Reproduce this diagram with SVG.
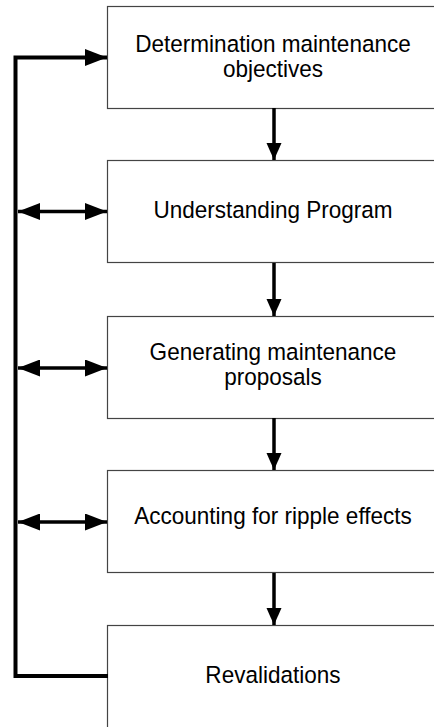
<svg xmlns="http://www.w3.org/2000/svg" width="434" height="727" viewBox="0 0 434 727">
<defs>
<style>
.box{fill:#fff;stroke:#444;stroke-width:1.2}
.lbl{font-family:"Liberation Sans",Arial,sans-serif;font-size:24.5px;fill:#000;text-anchor:middle}
.ln{fill:none;stroke:#000;stroke-width:4}
.sh{fill:none;stroke:#000;stroke-width:3.5}
</style>
<marker id="ah" viewBox="0 0 22 17" refX="22" refY="8.5" markerWidth="22" markerHeight="17" markerUnits="userSpaceOnUse" orient="auto-start-reverse">
<path d="M0,0 L22,8.5 L0,17 Z" fill="#000"/>
</marker>
<marker id="ad" viewBox="0 0 15 17" refX="17" refY="7.5" markerWidth="15" markerHeight="17" markerUnits="userSpaceOnUse" orient="auto">
<path d="M0,0 L17,7.5 L0,15 Z" fill="#000"/>
</marker>
</defs>
<rect width="434" height="727" fill="#fff"/>
<g id="n1"><rect class="box" x="107.5" y="6.5" width="340" height="102"/>
<text class="lbl" transform="translate(273 52) scale(0.92 1)">Determination maintenance</text>
<text class="lbl" transform="translate(273 77) scale(0.92 1)">objectives</text></g>
<g id="n2"><rect class="box" x="107.5" y="160.5" width="340" height="102"/>
<text class="lbl" transform="translate(273 218) scale(0.92 1)">Understanding Program</text></g>
<g id="n3"><rect class="box" x="107.5" y="316.5" width="340" height="102"/>
<text class="lbl" transform="translate(273 360) scale(0.92 1)">Generating maintenance</text>
<text class="lbl" transform="translate(273 385) scale(0.92 1)">proposals</text></g>
<g id="n4"><rect class="box" x="107.5" y="470.5" width="340" height="102"/>
<text class="lbl" transform="translate(273 524) scale(0.92 1)">Accounting for ripple effects</text></g>
<g id="n5"><rect class="box" x="107.5" y="625.5" width="340" height="120"/>
<text class="lbl" transform="translate(273 683) scale(0.92 1)">Revalidations</text></g>
<g id="connectors">
<path class="sh" d="M274,108 V160" marker-end="url(#ad)"/>
<path class="sh" d="M274,263 V316" marker-end="url(#ad)"/>
<path class="sh" d="M274,418 V470" marker-end="url(#ad)"/>
<path class="sh" d="M274,573 V625" marker-end="url(#ad)"/>
<path class="ln" d="M108,676 H15.5 V57.5 H107" marker-end="url(#ah)"/>
<path class="sh" d="M18,211.5 H107" marker-start="url(#ah)" marker-end="url(#ah)"/>
<path class="sh" d="M18,368 H107" marker-start="url(#ah)" marker-end="url(#ah)"/>
<path class="sh" d="M18,522 H107" marker-start="url(#ah)" marker-end="url(#ah)"/>
</g>
</svg>
